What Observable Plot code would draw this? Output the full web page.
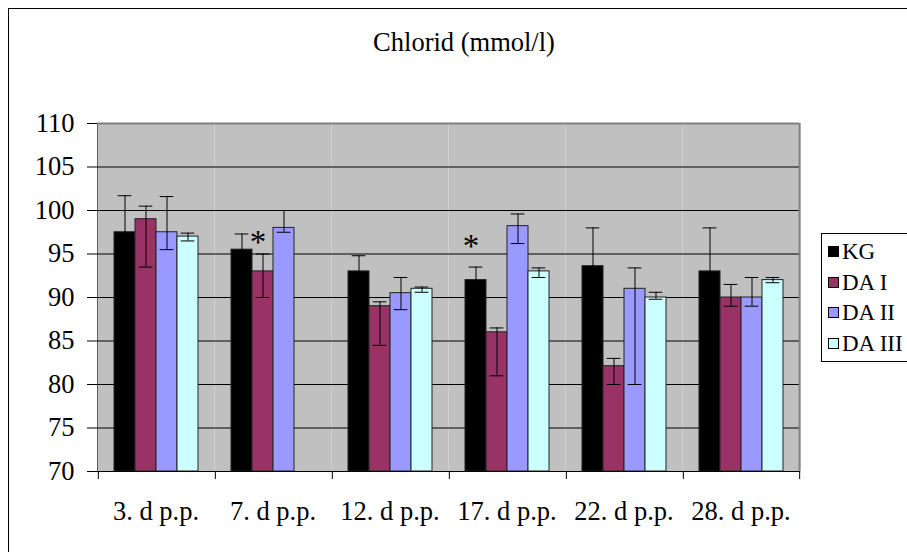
<!DOCTYPE html>
<html>
<head>
<meta charset="utf-8">
<script src="https://cdn.jsdelivr.net/npm/d3@7"></script>
<script src="https://cdn.jsdelivr.net/npm/@observablehq/plot@0.6"></script>
<style>
  html, body { margin: 0; padding: 0; background: #fff; width: 907px; height: 552px; overflow: hidden; }
  #wrap { position: relative; width: 907px; height: 552px; font-family: "Liberation Serif", "Times New Roman", serif; color: #000; }
  #outer { position: absolute; left: 8px; top: 8px; width: 940px; height: 580px; border: 1px solid #000; box-sizing: border-box; }
  #title { position: absolute; top: 29px; left: 464px; transform: translateX(-50%); font-size: 26.5px; line-height: 26px; white-space: nowrap; }
  #chart { position: absolute; left: 0; top: 0; }
  #legend { position: absolute; left: 821px; top: 233px; width: 110px; height: 129px; border: 1px solid #000; box-sizing: border-box; background: #fff; padding-top: 2px; padding-left: 6px; }
  .row { display: flex; align-items: center; height: 30.7px; font-size: 23px; line-height: 1; }
  .sw { width: 11px; height: 11px; border: 1px solid #000; box-sizing: border-box; margin-right: 3px; }
</style>
</head>
<body>
<div id="wrap">
  <div id="outer"></div>
  <div id="chart"></div>
  <div id="title">Chlorid (mmol/l)</div>
  <div id="legend"></div>
</div>
<script>
// ---- data ----
const days = ["3. d p.p.", "7. d p.p.", "12. d p.p.", "17. d p.p.", "22. d p.p.", "28. d p.p."];
const series = ["KG", "DA I", "DA II", "DA III"];
const colors = ["#000000", "#993366", "#9999FF", "#CCFFFF"];

const kgMean   = [97.5, 95.5, 93.0, 92.0, 93.6, 93.0];
const kgHi     = [101.7, 97.3, 94.8, 93.5, 98.0, 98.0];
const kgLo     = [93.3, 93.7, 91.2, 90.5, 89.2, 88.0];

const da1Mean  = [99.0, 93.0, 89.0, 86.0, 82.1, 90.0];
const da1Hi    = [100.5, 95.0, 89.5, 86.5, 83.0, 91.5];
const da1Lo    = [93.5, 90.0, 84.5, 81.0, 80.0, 89.0];

const da2Mean  = [97.5, 98.0, 90.5, 98.2, 91.0, 90.0];
const da2Hi    = [101.6, 100.0, 92.3, 99.6, 93.4, 92.3];
const da2Lo    = [95.5, 97.5, 88.6, 96.2, 80.0, 89.0];

const da3Mean  = [97.0, null, 91.0, 93.0, 90.0, 92.0];
const da3Hi    = [97.4, null, 91.2, 93.4, 90.6, 92.3];
const da3Lo    = [96.5, null, 90.6, 92.3, 89.8, 91.7];

const yDomain = [70, 110];
const yTicks = [70, 75, 80, 85, 90, 95, 100, 105, 110];
const gridY = [75, 80, 85, 90, 95, 100, 105];

const starDays = ["7. d p.p.", "17. d p.p."];
const starSeries = ["DA I", "KG"];
const starY = [96.7, 96.2];

// ---- build table ----
const means = [kgMean, da1Mean, da2Mean, da3Mean];
const his = [kgHi, da1Hi, da2Hi, da3Hi];
const los = [kgLo, da1Lo, da2Lo, da3Lo];
const rows = [];
days.forEach((d, i) => {
  series.forEach((s, j) => {
    if (means[j][i] != null) rows.push({day: d, series: s, value: means[j][i], hi: his[j][i], lo: los[j][i]});
  });
});
const stars = starDays.map((d, i) => ({day: d, series: starSeries[i], y: starY[i]}));

// ---- layout ----
const W = 907, H = 552, ML = 96, MR = 107, MT = 123, MB = 81;
const padOuter = 0.75;
const facetW = (W - ML - MR) / days.length;
const bw = facetW / (series.length + 2 * padOuter);
const edgeDx = (padOuter + 0.5) * bw;
const capInset = (bw - 14) / 2;

const chart = Plot.plot({
  width: W, height: H,
  marginLeft: ML, marginRight: MR, marginTop: MT, marginBottom: MB,
  style: {fontFamily: '"Liberation Serif", "Times New Roman", serif', fontSize: "26.5px", color: "#000", background: "transparent"},
  fx: {domain: days, padding: 0, label: null, tickSize: 0, tickPadding: 30, axis: "bottom"},
  x: {domain: series, paddingInner: 0, paddingOuter: padOuter, axis: null},
  y: {domain: yDomain, ticks: yTicks, label: null, tickSize: 10, tickPadding: 13, line: true},
  color: {domain: series, range: colors},
  marks: [
    Plot.frame({fill: "#C0C0C0"}),
    Plot.ruleY(gridY, {stroke: "#000", strokeWidth: 1}),
    Plot.ruleY([yDomain[1]], {stroke: "#808080", strokeWidth: 2}),
    Plot.barY(rows, {fx: "day", x: "series", y1: yDomain[0], y2: "value", fill: "series", stroke: "#222", strokeWidth: 1}),
    Plot.ruleX(rows, {fx: "day", x: "series", y1: "lo", y2: "hi", stroke: "#000", strokeWidth: 1}),
    Plot.tickY(rows, {fx: "day", x: "series", y: "hi", stroke: "#000", strokeWidth: 1, insetLeft: capInset, insetRight: capInset}),
    Plot.tickY(rows, {fx: "day", x: "series", y: "lo", stroke: "#000", strokeWidth: 1, insetLeft: capInset, insetRight: capInset}),
    Plot.text(stars, {fx: "day", x: "series", y: "y", text: () => "*", fontSize: 33, dx: -5, dy: 3, fill: "#000"}),
    // right border of plot area (last facet)
    Plot.ruleX([{day: days[days.length - 1], series: series[series.length - 1]}], {fx: "day", x: "series", y1: yDomain[0], y2: yDomain[1], dx: edgeDx, stroke: "#808080", strokeWidth: 2}),
    // bottom axis line
    Plot.ruleY([yDomain[0]], {stroke: "#000", strokeWidth: 1}),
    // category boundary ticks
    Plot.ruleX(days.map(d => ({day: d, series: series[0]})), {fx: "day", x: "series", y1: yDomain[0], y2: yDomain[0], insetBottom: -8, dx: -edgeDx, stroke: "#000"}),
    Plot.ruleX([{day: days[days.length - 1], series: series[series.length - 1]}], {fx: "day", x: "series", y1: yDomain[0], y2: yDomain[0], insetBottom: -8, dx: edgeDx, stroke: "#000"})
  ]
});
document.getElementById("chart").appendChild(chart);

// ---- legend ----
const legend = document.getElementById("legend");
series.forEach((s, i) => {
  const row = document.createElement("div");
  row.className = "row";
  const sw = document.createElement("span");
  sw.className = "sw";
  sw.style.background = colors[i];
  const t = document.createElement("span");
  t.textContent = s;
  row.appendChild(sw);
  row.appendChild(t);
  legend.appendChild(row);
});
</script>
</body>
</html>
